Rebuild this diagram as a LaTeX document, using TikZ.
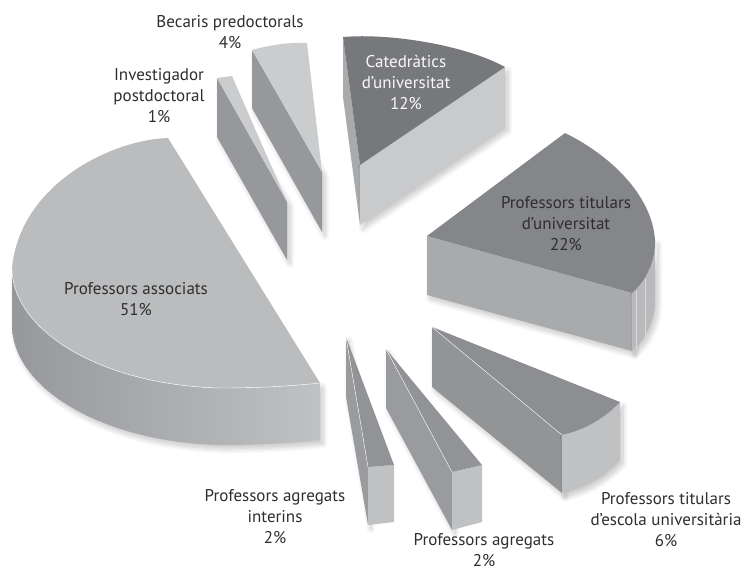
\documentclass[tikz,border=0pt]{standalone}
\usepackage{fontspec}
\setmainfont{PT Sans}
\usepackage{tikz}
\usetikzlibrary{shadows.blur}

\definecolor{topdark}{HTML}{77787B}
\definecolor{topmid}{HTML}{858689}
\definecolor{topteu}{HTML}{8D8E91}
\definecolor{topthin}{HTML}{9A9B9E}
\definecolor{toplight}{HTML}{BBBCBE}
\definecolor{toppale}{HTML}{CBCCCE}
\definecolor{sidelight}{HTML}{C9CACC}
\definecolor{sidemid}{HTML}{A9AAAC}
\definecolor{sidedark}{HTML}{97989B}
\definecolor{rimlight}{HTML}{C0C1C3}
\definecolor{labelgray}{HTML}{2E2E2E}

\tikzset{
  slicelabel/.style={align=center, text=labelgray, font=\fontsize{17}{21}\selectfont},
  edge/.style={draw=white, line width=0.4pt},
  drop/.style={blur shadow={shadow xshift=3pt, shadow yshift=-4pt, shadow opacity=22, shadow blur steps=10, shadow blur radius=5pt}}
}

\begin{document}
\begin{tikzpicture}[x=1pt,y=-1pt]
\useasboundingbox (0,0) rectangle (746,571);
% catedratics
\coordinate (ca) at (360,165);
\coordinate (cab) at (360,225);
\coordinate (cs) at (343,37);
\coordinate (csb) at (343,97);
\coordinate (ce) at (505,67);
\coordinate (ceb) at (505,127);
% titulars universitat
\coordinate (ta) at (427,236);
\coordinate (tab) at (427,295);
\coordinate (ts) at (565,133);
\coordinate (tr) at (655,240);
\coordinate (trb) at (655,298);
\coordinate (te) at (632,293);
\coordinate (teb) at (632,351);
% titulars escola
\coordinate (ua) at (432,327);
\coordinate (uab) at (432,387);
\coordinate (us) at (620,402);
\coordinate (usb) at (620,460);
\coordinate (ue) at (562,435);
\coordinate (ueb) at (562,493);
% agregats
\coordinate (ga) at (386,349);
\coordinate (gab) at (386,408);
\coordinate (gs) at (482,465);
\coordinate (gsb) at (482,522);
\coordinate (ge) at (452,472);
\coordinate (geb) at (452,530);
% agregats interins
\coordinate (ia) at (346,337);
\coordinate (iab) at (346,397);
\coordinate (is) at (394,465);
\coordinate (isb) at (394,522);
\coordinate (ie) at (368,467);
\coordinate (ieb) at (368,525);
% associats
\coordinate (as) at (320,383);
\coordinate (asb) at (320,440);
\coordinate (ae) at (168,138);
\coordinate (al) at (12,268);
\coordinate (alb) at (12,325);
% investigador
\coordinate (va) at (287,202);
\coordinate (vab) at (287,260);
\coordinate (vs) at (217,78);
\coordinate (vsb) at (217,137);
\coordinate (ve) at (232,76);
% becaris
\coordinate (ba) at (322,172);
\coordinate (bab) at (322,232);
\coordinate (bs) at (252,50);
\coordinate (bsb) at (252,108);
\coordinate (be) at (307,43);

% draws slices
\fill[drop, sidedark] (bs) -- (ba) -- (bab) -- (bsb) -- cycle;
\fill[toppale] (ba) -- (bs) .. controls (270,45) and (290,42) .. (be) -- cycle;
\fill[drop, sidedark] (vs) -- (va) -- (vab) -- (vsb) -- cycle;
\fill[toppale] (va) -- (vs) -- (ve) -- cycle;

\fill[sidemid] (cs) -- (ca) -- (cab) -- (csb) -- cycle;
\fill[drop, sidelight] (ca) -- (ce) -- (ceb) -- (cab) -- cycle;
\fill[topdark] (ca) -- (cs) .. controls (390,33) and (465,45) .. (ce) -- cycle;

\fill[drop, sidemid] (ta) -- (te) -- (teb) -- (tab) -- cycle;
\fill[drop, rimlight!90!gray] (te) .. controls (645,282) and (656,262) .. (tr) -- (trb)
  .. controls (656,320) and (645,340) .. (teb) -- cycle;
\fill[topmid] (ta) -- (ts) .. controls (610,155) and (652,195) .. (tr)
  .. controls (656,262) and (645,282) .. (te) -- cycle;
\draw[rimlight!60!white, line width=0.3pt] (636,291) -- (636,349) (645,279) -- (645,337);

\fill[drop, topteu!95!white] (ua) -- (ue) -- (ueb) -- (uab) -- cycle;
\fill[drop, rimlight] (us) .. controls (605,418) and (585,430) .. (ue) -- (ueb)
  .. controls (585,488) and (605,476) .. (usb) -- cycle;
\fill[topteu] (ua) -- (us) .. controls (605,418) and (585,430) .. (ue) -- cycle;
\draw[edge] (ua) -- (ue);

\fill[drop, topthin] (ga) -- (ge) -- (geb) -- (gab) -- cycle;
\fill[rimlight] (gs) -- (ge) -- (geb) -- (gsb) -- cycle;
\fill[topthin!95!black] (ga) -- (gs) -- (ge) -- cycle;
\draw[edge] (ga) -- (ge);

\fill[drop, topthin] (ia) -- (ie) -- (ieb) -- (iab) -- cycle;
\fill[rimlight] (is) -- (ie) -- (ieb) -- (isb) -- cycle;
\fill[topthin!95!black] (ia) -- (is) -- (ie) -- cycle;
\draw[edge] (ia) -- (ie);

\shade[drop, left color=sidedark, right color=rimlight] (al)
  .. controls (12,330) and (100,385) .. (220,388)
  .. controls (260,388) and (292,386) .. (as) -- (asb)
  .. controls (292,443) and (260,445) .. (220,445)
  .. controls (100,442) and (12,387) .. (alb) -- cycle;
\fill[toplight] (as) -- (ae) .. controls (110,140) and (20,185) .. (al)
  .. controls (12,330) and (100,385) .. (220,388)
  .. controls (260,388) and (292,386) .. (as) -- cycle;
\draw[edge] (al) .. controls (12,330) and (100,385) .. (220,388)
  .. controls (260,388) and (292,386) .. (as);

% labels slices
\node[slicelabel] (becaris) at (230,32) {Becaris predoctorals\\4\%};
\node[slicelabel] (investigador) at (159,96) {Investigador\\postdoctoral\\1\%};
\node[slicelabel, text=white!95!gray] (catedratics) at (406,82) {Catedràtics\\d’universitat\\12\%};
\node[slicelabel] (titularsuni) at (566,224) {Professors titulars\\d’universitat\\22\%};
\node[slicelabel] (associats) at (136,299) {Professors associats\\51\%};
\node[slicelabel] (titularsesc) at (666,520) {Professors titulars\\d’escola universitària\\6\%};
\node[slicelabel] (agregats) at (484,550) {Professors agregats\\2\%};
\node[slicelabel] (interins) at (275,517) {Professors agregats\\interins\\2\%};
\end{tikzpicture}
\end{document}
